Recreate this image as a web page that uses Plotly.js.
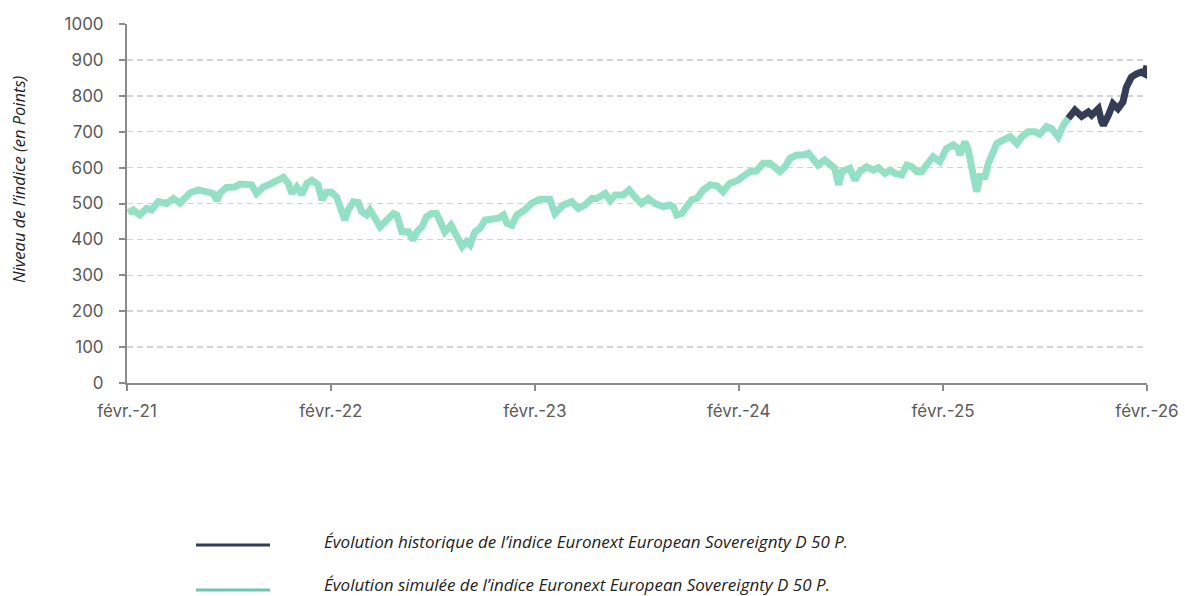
<!DOCTYPE html>
<html>
<head>
<meta charset="utf-8">
<script src="https://cdn.plot.ly/plotly-3.0.1.min.js"></script>
<style>html,body{margin:0;padding:0;background:#fff;}#chart{width:1185px;height:596px;}</style>
</head>
<body>
<div id="chart"></div>
<script>
// Simulated index (green)
const simDates = [
"2021-02-03","2021-02-12","2021-02-24","2021-03-08","2021-03-17","2021-03-29","2021-04-13","2021-04-25","2021-05-07","2021-05-16",
"2021-05-25","2021-06-09","2021-06-24","2021-07-05","2021-07-12","2021-07-17","2021-07-29","2021-08-13","2021-08-22","2021-09-03",
"2021-09-12","2021-09-21","2021-10-03","2021-10-15","2021-10-27","2021-11-08","2021-11-17","2021-11-23","2021-12-02","2021-12-11",
"2021-12-20","2021-12-29","2022-01-09","2022-01-16","2022-01-24","2022-02-02","2022-02-11","2022-02-17","2022-02-26","2022-03-04",
"2022-03-13","2022-03-22","2022-03-28","2022-04-06","2022-04-12","2022-04-21","2022-04-30","2022-05-09","2022-05-24","2022-05-30",
"2022-06-08","2022-06-20","2022-06-28","2022-07-05","2022-07-14","2022-07-22","2022-07-31","2022-08-09","2022-08-15","2022-08-24",
"2022-09-04","2022-09-11","2022-09-17","2022-09-24","2022-10-02","2022-10-08","2022-10-17","2022-10-26","2022-11-04","2022-11-16",
"2022-11-28","2022-12-07","2022-12-13","2022-12-22","2022-12-31","2023-01-14","2023-01-26","2023-02-10","2023-02-28","2023-03-09",
"2023-03-24","2023-04-08","2023-04-20","2023-05-02","2023-05-14","2023-05-23","2023-06-07","2023-06-16","2023-06-25","2023-07-09",
"2023-07-20","2023-07-30","2023-08-11","2023-08-23","2023-09-04","2023-09-19","2023-10-01","2023-10-07","2023-10-13","2023-10-22",
"2023-10-31","2023-11-09","2023-11-18","2023-11-30","2023-12-12","2023-12-24","2024-01-04","2024-01-16","2024-01-31","2024-02-09",
"2024-02-21","2024-03-04","2024-03-16","2024-03-28","2024-04-06","2024-04-15","2024-04-24","2024-05-03","2024-05-15","2024-05-27",
"2024-06-05","2024-06-14","2024-06-22","2024-07-04","2024-07-13","2024-07-22","2024-07-29","2024-08-04","2024-08-18","2024-08-27",
"2024-09-05","2024-09-17","2024-09-29","2024-10-08","2024-10-20","2024-10-29","2024-11-07","2024-11-19","2024-11-28","2024-12-07",
"2024-12-16","2024-12-25","2025-01-02","2025-01-14","2025-01-26","2025-02-07","2025-02-19","2025-02-28","2025-03-03","2025-03-12",
"2025-03-18","2025-03-24","2025-03-30","2025-04-02","2025-04-08","2025-04-17","2025-04-23","2025-05-02","2025-05-08","2025-05-20",
"2025-06-01","2025-06-13","2025-06-22","2025-07-03","2025-07-15","2025-07-24","2025-08-05","2025-08-14","2025-08-26","2025-09-04",
"2025-09-13"];
const simValues = [
474,482,468,486,482,505,500,514,501,514,
530,538,532,528,508,528,545,546,554,552,
552,528,546,554,565,573,556,528,546,525,
556,565,552,510,531,531,519,491,454,482,
505,503,477,468,482,459,435,449,472,468,
421,421,398,421,435,463,472,472,449,421,
440,417,398,380,394,385,421,431,454,459,
459,468,445,440,468,482,500,512,512,472,
496,505,486,496,514,514,528,508,524,524,
538,519,500,514,500,491,496,491,468,472,
491,510,514,538,552,549,533,556,565,578,
589,591,612,612,602,589,602,626,635,635,
640,621,607,621,612,598,552,589,598,565,
589,602,593,600,584,593,584,580,607,602,
589,589,607,630,617,653,663,653,635,672,
649,603,538,533,575,575,612,640,667,677,
686,667,686,700,700,693,714,709,686,718,
737];

// Historical index (navy)
const histDates = [
"2025-09-13","2025-09-25","2025-10-07","2025-10-19","2025-10-25","2025-11-06","2025-11-12","2025-11-15","2025-11-24","2025-12-02",
"2025-12-11","2025-12-20","2025-12-26","2026-01-04","2026-01-13","2026-01-22","2026-01-28","2026-02-01"];
const histValues = [
737,760,743,755,746,764,727,718,746,778,
764,783,824,852,861,866,861,884];

const tickDates = ["2021-02-01","2022-02-01","2023-02-01","2024-02-01","2025-02-01","2026-02-01"];
const tickLabels = ["févr.-21","févr.-22","févr.-23","févr.-24","févr.-25","févr.-26"];
const legendLabels = [
"Évolution historique de l’indice Euronext European Sovereignty D 50 P.",
"Évolution simulée de l’indice Euronext European Sovereignty D 50 P."];

const GREEN = "#93e0c5";
const NAVY = "#353d56";
const tickFont = {family: "Inter, Roboto, sans-serif", size: 17, color: "#5a5a5a"};

const traces = [
  {x: simDates, y: simValues, type: "scatter", mode: "lines",
   line: {color: GREEN, width: 7, shape: "linear"}, showlegend: false, hoverinfo: "skip"},
  {x: histDates, y: histValues, type: "scatter", mode: "lines",
   line: {color: NAVY, width: 7, shape: "linear"}, showlegend: false, hoverinfo: "skip"}
];

const W = 1185, H = 596;
const legFont = {family: "'Open Sans', sans-serif", size: 17, color: "#222", style: "italic"};

const layout = {
  width: W, height: H,
  margin: {l: 127, r: 38, t: 24, b: 213},
  paper_bgcolor: "#ffffff", plot_bgcolor: "#ffffff",
  showlegend: false,
  xaxis: {
    type: "date", range: ["2021-02-01", "2026-02-01"],
    tickmode: "array", tickvals: tickDates, ticktext: tickLabels,
    showgrid: false, zeroline: false,
    showline: true, linecolor: "#8a8a8a", linewidth: 2,
    ticks: "outside", ticklen: 6, tickwidth: 2, tickcolor: "#8a8a8a",
    ticklabelstandoff: 6,
    tickfont: tickFont, fixedrange: true
  },
  yaxis: {
    range: [0, 1000], dtick: 100, tick0: 0,
    showgrid: true, gridcolor: "#d3d3d3", gridwidth: 1.5, griddash: "6px,4px",
    zeroline: false,
    showline: true, linecolor: "#8a8a8a", linewidth: 2,
    ticks: "outside", ticklen: 6, tickwidth: 2, tickcolor: "#8a8a8a",
    ticklabelstandoff: 12,
    tickfont: tickFont, fixedrange: true
  },
  shapes: [
    {type: "line", xref: "paper", yref: "paper",
     x0: (196-127)/1020, x1: (270-127)/1020, y0: (596-213-545)/359, y1: (596-213-545)/359,
     line: {color: NAVY, width: 3}},
    {type: "line", xref: "paper", yref: "paper",
     x0: (196-127)/1020, x1: (270-127)/1020, y0: (596-213-590)/359, y1: (596-213-590)/359,
     line: {color: "#6cc8ae", width: 3}}
  ],
  annotations: [
    {xref: "paper", yref: "paper", x: (322-127)/1020, y: (596-213-541)/359,
     xanchor: "left", yanchor: "middle", text: legendLabels[0], showarrow: false, font: legFont},
    {xref: "paper", yref: "paper", x: (322-127)/1020, y: (596-213-584)/359,
     xanchor: "left", yanchor: "middle", text: legendLabels[1], showarrow: false, font: legFont},
    {xref: "paper", yref: "paper", x: (18-127)/1020, y: (383-179)/359,
     xanchor: "center", yanchor: "middle", textangle: -90,
     text: "Niveau de l’indice (en Points)", showarrow: false,
     font: {family: "'Open Sans', sans-serif", size: 16.5, color: "#222", style: "italic"}}
  ]
};

Plotly.newPlot("chart", traces, layout, {staticPlot: true, displayModeBar: false});
</script>
</body>
</html>
